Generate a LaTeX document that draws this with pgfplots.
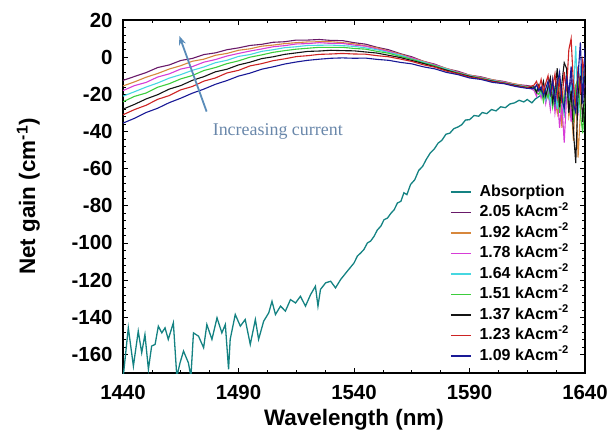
\documentclass[border=0pt]{standalone}
\usepackage{pgfplots}
\pgfplotsset{compat=1.18}
\usepackage{pgfplotstable}
\usepackage{fontspec}
\setmainfont{Liberation Sans}
\newfontfamily\serifA{Liberation Serif}
\usetikzlibrary{arrows.meta}

\definecolor{cAbs}{RGB}{20,130,130}
\definecolor{c205}{RGB}{105,25,105}
\definecolor{c192}{RGB}{215,135,60}
\definecolor{c178}{RGB}{215,60,215}
\definecolor{c164}{RGB}{70,215,225}
\definecolor{c151}{RGB}{60,205,60}
\definecolor{c137}{RGB}{20,20,20}
\definecolor{c123}{RGB}{205,35,35}
\definecolor{c109}{RGB}{25,25,150}
\definecolor{arrowc}{RGB}{90,140,185}
\definecolor{textc}{RGB}{105,135,170}

\pgfplotstableread{
x a b c d e f g h
1440 -12.5 -15.5 -18.0 -21.0 -24.0 -28.0 -31.0 -35.5
1445 -10.4 -13.3 -15.3 -18.6 -21.1 -25.4 -28.2 -32.9
1450 -8.3 -10.8 -13.6 -16.1 -19.3 -22.5 -25.9 -29.8
1455 -5.6 -8.8 -10.7 -13.9 -16.2 -20.2 -22.7 -27.5
1460 -4.2 -6.4 -9.0 -11.3 -14.3 -17.2 -20.7 -24.5
1465 -1.8 -4.6 -6.4 -9.4 -11.7 -15.3 -17.6 -22.1
1470 -0.7 -2.2 -5.1 -7.1 -9.9 -12.5 -15.8 -19.4
1475 1.4 -1.1 -2.7 -5.3 -7.2 -10.5 -12.9 -17.2
1480 2.3 1.0 -1.3 -3.0 -5.6 -7.9 -11.2 -14.6
1485 4.0 2.0 0.6 -1.7 -3.5 -6.5 -8.5 -12.6
1490 5.0 3.7 2.0 0.4 -2.0 -4.2 -7.1 -10.2
1495 6.3 4.5 3.3 1.4 0.0 -2.7 -4.7 -8.6
1500 6.9 5.9 4.4 3.1 1.2 -0.8 -3.5 -6.5
1505 8.0 6.5 5.6 4.0 2.6 0.2 -1.9 -5.2
1510 8.3 7.3 6.2 5.1 3.5 1.5 -0.9 -3.7
1515 9.2 7.8 7.1 5.6 4.3 2.3 0.3 -2.6
1520 9.2 8.2 7.3 6.3 4.8 3.1 0.8 -1.7
1525 9.5 8.3 7.8 6.4 5.3 3.3 1.5 -1.1
1530 9.0 8.3 7.4 6.5 5.3 3.7 1.7 -0.6
1535 8.9 7.8 7.4 6.2 5.3 3.5 2.0 -0.4
1540 7.8 7.2 6.5 5.8 4.7 3.4 1.7 -0.6
1545 7.0 6.1 5.9 5.0 4.3 2.8 1.6 -0.5
1550 5.3 5.0 4.4 4.0 3.1 2.2 0.8 -1.2
1555 4.0 3.3 3.1 2.5 2.1 1.0 0.2 -1.7
1560 1.9 1.6 1.1 1.1 0.4 -0.2 -1.0 -2.8
1565 0.2 -0.3 -0.4 -1.0 -1.1 -1.8 -2.3 -3.6
1570 -2.2 -2.2 -2.6 -2.6 -3.1 -3.4 -4.1 -5.2
1575 -3.8 -4.2 -4.2 -4.6 -4.6 -5.2 -5.4 -6.3
1580 -6.2 -6.0 -6.4 -6.3 -6.9 -7.0 -7.5 -8.2
1585 -7.6 -8.1 -8.1 -8.5 -8.4 -8.8 -8.9 -9.4
1590 -9.7 -9.6 -10.0 -9.9 -10.3 -10.3 -10.7 -11.2
1595 -10.6 -10.9 -10.9 -11.3 -11.2 -11.7 -11.6 -12.0
1600 -12.2 -12.2 -12.6 -12.5 -12.9 -12.9 -13.2 -13.6
1605 -13.1 -13.4 -13.4 -13.8 -13.7 -14.1 -14.0 -14.3
1610 -14.7 -14.4 -14.9 -14.9 -15.3 -15.2 -15.5 -15.8
1615 -15.3 -15.8 -15.8 -16.1 -16.1 -16.5 -16.4 -16.8
1618 -16 -16 -18 -16 -17 -16 -15 -17
1619 -18 -18 -21 -18 -19 -19 -13 -15
1620 -17 -17 -17 -15 -20 -15 -17 -18
1621 -19 -20 -22 -20 -17 -18 -12 -16
1622 -16 -14 -15 -17 -24 -13 -19 -21
1623 -21 -23 -25 -23 -18 -21 -14 -17
1624 -18 -17 -18 -14 -22 -16 -10 -13
1625 -15 -26 -28 -25 -15 -11 -20 -20
1626 -23 -12 -14 -18 -27 -24 -16 -12
1627 -19 -22 -30 -16 -20 -17 -9 -25
1628 -13 -30 -20 -28 -14 -6 -22 -14
1629 -26 -15 -38 -12 -30 -27 -12 -8
1630 -20 -38 -25 -22 -18 -14 -25 -22
1631 -30 -20 -46 -30 -25 -3 -8 -28
1632 -15 -12 -22 -8 -10 -6 -18 -10
1633 -22 -32 -18 -25 -28 -30 4 -20
1634 -12 -25 -35 -15 -20 -18 10 -5
1635 -28 -45 -12 -20 -35 -40 -15 -25
1636 -18 -15 -25 6 -15 -57 -28 -30
1637 -25 -54 -30 -30 -12 -20 -5 -10
1638 -10 -30 -10 -5 -30 -10 -20 8
1639 -20 -5 -20 -18 -41 -35 -2 -25
1640 -15 -25 -15 0 -20 -15 -10 5
}\gaintable

\pgfplotstableread{
x y
1440.1 -172
1442.3 -145.7
1444.5 -166.3
1446.6 -147.5
1448.1 -159.1
1449.5 -149.3
1451 -168
1452.4 -155.5
1453.9 -154.6
1455.3 -144.8
1456.8 -148.4
1458.2 -145.7
1459.6 -151.9
1461.8 -143
1463.3 -172
1464.7 -164.5
1466.2 -158.2
1468.3 -164.5
1469.4 -172
1470.5 -148.4
1472.7 -150.2
1474.9 -156.4
1476.3 -143.9
1478.5 -151.9
1480.7 -140.3
1482.8 -148.4
1484.3 -143.9
1485.7 -168
1486.4 -151.9
1488.6 -138.5
1490.8 -144.8
1492.9 -141.2
1495.1 -154.6
1497.3 -141.2
1498.7 -151.9
1500.9 -142.1
1503.1 -137.6
1504.5 -131.4
1506 -138.5
1508.2 -134
1510.3 -136.7
1512.5 -130.5
1514.7 -132.3
1516.8 -128.7
1519 -134
1521.2 -127.8
1523.3 -123.3
1524.4 -134
1525.5 -125
1527.7 -121.5
1529.9 -120.6
1532 -124.2
1534.2 -119.7
1537.1 -115.2
1540 -110.8
1541.5 -107
1542.9 -105.4
1544.3 -103.5
1545.8 -100
1547.2 -99
1548.7 -96.4
1550.1 -93
1551.6 -91
1553 -87.5
1554.5 -86.6
1556 -84
1557.4 -82.1
1558.8 -78.5
1560.3 -77.6
1561.6 -73
1562.9 -74
1564.5 -68.5
1566.3 -66
1568 -61
1569.7 -58.8
1571.3 -55
1573 -51.6
1574.7 -49.5
1576.4 -46.3
1578 -44.8
1579.8 -41.5
1581.5 -40.9
1583.2 -38.5
1585 -37.6
1586.6 -36.4
1588.3 -33.8
1590 -33.7
1592 -31.4
1594 -31.8
1595.5 -29.8
1597.5 -30.4
1599.5 -28.2
1601.5 -28.9
1603.5 -26.7
1605.5 -27.2
1607.5 -25.2
1609.5 -24.6
1611.5 -23.2
1613.5 -24.1
1615 -22.8
1617 -24.6
1618.5 -22.5
1619.8 -21.4
1621 -20.5
}\abstable

\begin{document}
\begin{tikzpicture}
\begin{axis}[
  at={(0,0)}, anchor=south west,
  scale only axis, width=462bp, height=353bp,
  xmin=1440, xmax=1640, ymin=-170, ymax=20,
  xtick={1440,1490,1540,1590,1640},
  ytick={-160,-140,-120,-100,-80,-60,-40,-20,0,20},
  minor x tick num=3, minor y tick num=4,
  tick align=inside, xtick pos=both, ytick pos=both,
  major tick length=5bp, minor tick length=3bp,
  tick style={black, line width=0.6bp},
  axis line style={line width=1.2bp},
  /pgf/number format/assume math mode=true,
  /pgf/number format/1000 sep={},
  ticklabel style={font=\fontsize{20.5}{24}\selectfont\bfseries},
  xticklabel style={yshift=-9bp},
  yticklabel style={xshift=-7bp},
  xlabel={Wavelength (nm)},
  ylabel={Net gain (cm\textsuperscript{-1})},
  label style={font=\fontsize{22.5}{26}\selectfont\bfseries},
  xlabel style={at={(axis description cs:0.5,-0.133)}, anchor=center},
  ylabel style={at={(axis description cs:-0.205,0.5)}, anchor=center},
  legend style={at={(axis cs:1581.5,-68)}, anchor=north west, draw=none, fill=none,
    inner sep=0pt, font=\fontsize{16}{19}\selectfont\bfseries, row sep=3.5bp,
    column sep=7bp,
    nodes={inner sep=1bp, text height=11.5bp, text depth=3.5bp}},
  legend cell align=left,
  legend image code/.code={\draw[#1, line width=1.5bp] (0bp,0bp) -- (20bp,0bp);},
]
\addplot[cAbs, line width=1.3bp] table[x=x,y=y] {\abstable};
\addlegendentry{Absorption}
\addplot[c205, line width=1.1bp] table[x=x,y=a] {\gaintable};
\addlegendentry{2.05 kAcm\textsuperscript{-2}}
\addplot[c192, line width=1.1bp] table[x=x,y=b] {\gaintable};
\addlegendentry{1.92 kAcm\textsuperscript{-2}}
\addplot[c178, line width=1.1bp] table[x=x,y=c] {\gaintable};
\addlegendentry{1.78 kAcm\textsuperscript{-2}}
\addplot[c164, line width=1.1bp] table[x=x,y=d] {\gaintable};
\addlegendentry{1.64 kAcm\textsuperscript{-2}}
\addplot[c151, line width=1.1bp] table[x=x,y=e] {\gaintable};
\addlegendentry{1.51 kAcm\textsuperscript{-2}}
\addplot[c137, line width=1.1bp] table[x=x,y=f] {\gaintable};
\addlegendentry{1.37 kAcm\textsuperscript{-2}}
\addplot[c123, line width=1.1bp] table[x=x,y=g] {\gaintable};
\addlegendentry{1.23 kAcm\textsuperscript{-2}}
\addplot[c109, line width=1.1bp] table[x=x,y=h] {\gaintable};
\addlegendentry{1.09 kAcm\textsuperscript{-2}}
\draw[-{Stealth[length=9bp,width=7bp]}, arrowc, line width=1.8bp]
  (axis cs:1476.2,-29.3) -- (axis cs:1464.4,11.4);
\node[text=textc, font=\serifA\fontsize{18}{20}\selectfont] at (axis cs:1507,-40) {Increasing current};
\end{axis}
\pgfresetboundingbox
\path (-123bp,-62bp) rectangle (491bp,373bp);
\end{tikzpicture}
\end{document}
